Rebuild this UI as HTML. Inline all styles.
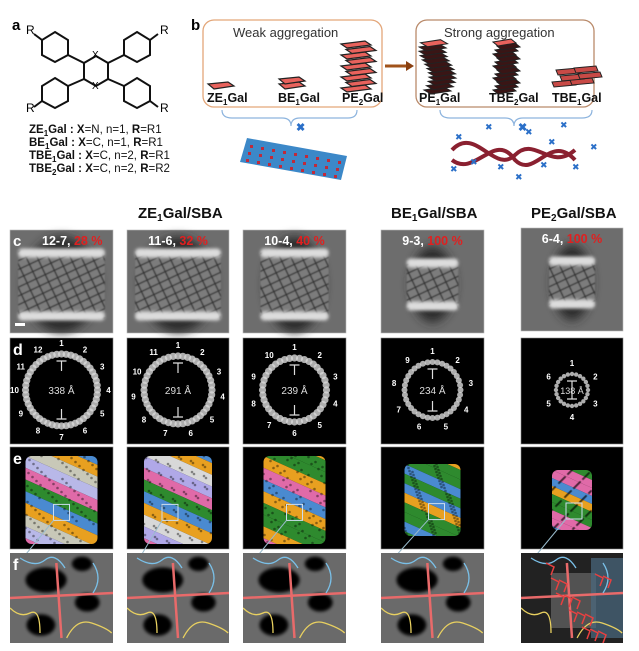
<!DOCTYPE html>
<html><head><meta charset="utf-8"><style>
body{margin:0;background:#fff;}
svg{display:block;font-family:"Liberation Sans",Arial,sans-serif;}
</style></head><body>
<svg id="s" width="639" height="651" viewBox="0 0 639 651" xmlns="http://www.w3.org/2000/svg">
<defs>
<pattern id="lat" width="10" height="8" patternUnits="userSpaceOnUse" patternTransform="rotate(-25)"><rect width="10" height="8" fill="#7c7c7c"/><path d="M0 4 L10 4 M5 0 L5 8" stroke="#333" stroke-width="1.3"/></pattern>
<filter id="bl" x="-20%" y="-50%" width="140%" height="200%"><feGaussianBlur stdDeviation="1.5"/></filter>
<filter id="bl1" x="-20%" y="-20%" width="140%" height="140%"><feGaussianBlur stdDeviation="0.6"/></filter>
<filter id="bl2" x="-30%" y="-30%" width="160%" height="160%"><feGaussianBlur stdDeviation="5"/></filter>
</defs>
<rect width="639" height="651" fill="#fff"/>
<text x="12" y="30" font-size="15" font-weight="bold">a</text>
<g fill="none" stroke="#111" stroke-width="2">
<polygon points="96,56 108,63 108,79 96,86 84,79 84,63"/>
<polygon points="55,32 68,40 68,55 55,62 42,55 42,40"/>
<polygon points="137,32 150,40 150,55 137,62 124,55 124,40"/>
<polygon points="55,78 68,86 68,101 55,108 42,101 42,86"/>
<polygon points="137,78 150,86 150,101 137,108 124,101 124,86"/>
<path d="M68,55 L84,63 M124,55 L108,63 M68,86 L84,79 M124,86 L108,79 M42,40 L34,34 M150,40 L158,34 M42,101 L34,107 M150,101 L158,107"/>
</g>
<text x="26" y="34" font-size="12">R</text><text x="160" y="34" font-size="12">R</text>
<text x="26" y="112" font-size="12">R</text><text x="160" y="112" font-size="12">R</text>
<text x="92" y="58" font-size="10">X</text><text x="92" y="89" font-size="10">X</text>
<g font-size="11.5" fill="#111">
<text x="29" y="133"><tspan font-weight="bold">ZE</tspan><tspan font-size="8" dy="3" font-weight="bold">1</tspan><tspan dy="-3" font-weight="bold">Gal :  X</tspan>=N, n=1, <tspan font-weight="bold">R</tspan>=R1</text>
<text x="29" y="146"><tspan font-weight="bold">BE</tspan><tspan font-size="8" dy="3" font-weight="bold">1</tspan><tspan dy="-3" font-weight="bold">Gal :  X</tspan>=C, n=1, <tspan font-weight="bold">R</tspan>=R1</text>
<text x="29" y="159"><tspan font-weight="bold">TBE</tspan><tspan font-size="8" dy="3" font-weight="bold">1</tspan><tspan dy="-3" font-weight="bold">Gal :  X</tspan>=C, n=2, <tspan font-weight="bold">R</tspan>=R1</text>
<text x="29" y="172"><tspan font-weight="bold">TBE</tspan><tspan font-size="8" dy="3" font-weight="bold">2</tspan><tspan dy="-3" font-weight="bold">Gal :  X</tspan>=C, n=2, <tspan font-weight="bold">R</tspan>=R2</text>
</g>
<text x="191" y="30" font-size="15" font-weight="bold">b</text>
<rect x="203" y="20" width="179" height="87" rx="11" fill="none" stroke="#e3a679" stroke-width="1.3"/>
<rect x="416" y="20" width="178" height="87" rx="11" fill="none" stroke="#b98a6a" stroke-width="1.3"/>
<text x="233" y="37" font-size="13" fill="#333">Weak aggregation</text>
<text x="444" y="37" font-size="13" fill="#333">Strong aggregation</text>
<path d="M385,66 L408,66" stroke="#a0521a" stroke-width="3"/><polygon points="406,61 414,66 406,71" fill="#8a4010"/>
<g fill="#e8625c" stroke="#222" stroke-width="1.2">
<polygon points="208,84 228,82 234,86 214,89"/>
<polygon points="279,84 299,82 305,86 285,89"/><polygon points="279,79 299,77 305,81 285,84"/>
</g>
<g id="pe2" fill="#e8625c" stroke="#222" stroke-width="1.2"></g>
<g font-size="12.5" font-weight="bold" fill="#111">
<text x="207" y="102">ZE<tspan font-size="8" dy="3">1</tspan><tspan dy="-3">Gal</tspan></text>
<text x="278" y="102">BE<tspan font-size="8" dy="3">1</tspan><tspan dy="-3">Gal</tspan></text>
<text x="342" y="102">PE<tspan font-size="8" dy="3">2</tspan><tspan dy="-3">Gal</tspan></text>
<text x="419" y="102">PE<tspan font-size="8" dy="3">1</tspan><tspan dy="-3">Gal</tspan></text>
<text x="489" y="102">TBE<tspan font-size="8" dy="3">2</tspan><tspan dy="-3">Gal</tspan></text>
<text x="552" y="102">TBE<tspan font-size="8" dy="3">1</tspan><tspan dy="-3">Gal</tspan></text>
</g>
<g fill="none" stroke="#8db4de" stroke-width="1.2">
<path d="M222,110 Q222,118 232,118 L282,118 Q291,118 291,126 Q291,118 300,118 L348,118 Q357,118 357,110"/>
<path d="M440,110 Q440,118 450,118 L505,118 Q514,118 514,126 Q514,118 523,118 L582,118 Q592,118 592,110"/>
</g>
<text x="296" y="131" font-size="11" fill="#2a6fc8" font-weight="bold">✖</text>
<text x="518" y="131" font-size="11" fill="#2a6fc8" font-weight="bold">✖</text>
<polygon points="247,138 347,156 341,180 240,162" fill="#3c88c8"/>
<g id="tubedots" fill="#c02a3a"></g>
<path d="M452,150 C475,125 495,175 515,155 C535,135 550,172 575,150" stroke="#8a2030" stroke-width="4" fill="none"/>
<path d="M452,160 C475,178 495,130 515,160 C535,180 550,132 575,160" stroke="#8a2030" stroke-width="4" fill="none"/>
<g id="tets" fill="#2a6fc8" font-size="9"></g>
<g id="strong" stroke="#222" stroke-width="1"></g>
<g font-size="15" font-weight="bold" fill="#111">
<text x="138" y="218">ZE<tspan font-size="10" dy="3">1</tspan><tspan dy="-3">Gal/SBA</tspan></text>
<text x="391" y="218">BE<tspan font-size="10" dy="3">1</tspan><tspan dy="-3">Gal/SBA</tspan></text>
<text x="531" y="218">PE<tspan font-size="10" dy="3">2</tspan><tspan dy="-3">Gal/SBA</tspan></text>
</g>
<g id="panels"></g>
</svg>
<script>
var NS="http://www.w3.org/2000/svg";
function el(p,t,a,txt){var e=document.createElementNS(NS,t);for(var k in a)e.setAttribute(k,a[k]);if(txt!=null)e.textContent=txt;p.appendChild(e);return e;}
var P=document.getElementById('panels');
var pe=document.getElementById('pe2');
for(var i=0;i<9;i++){var y=88-i*5.5,o=(i%2?3:-2);el(pe,'polygon',{points:(343+o)+','+(y)+' '+(367+o)+','+(y-3)+' '+(373+o)+','+(y+1)+' '+(349+o)+','+(y+4)});}
var st=document.getElementById('strong');
for(var i=0;i<12;i++){var y=90-i*4.3,o=Math.sin(i/2)*5;el(st,'polygon',{points:(424+o)+','+y+' '+(444+o)+','+(y-3)+' '+(451+o)+','+(y+1)+' '+(431+o)+','+(y+4),fill:i==11?'#e8625c':'#3a1515'});}
for(var i=0;i<13;i++){var y=90-i*4,o=(i%3)*2;el(st,'polygon',{points:(493+o)+','+y+' '+(511+o)+','+(y-3)+' '+(516+o)+','+(y+1)+' '+(498+o)+','+(y+4),fill:i==12?'#e8625c':'#3a1515'});}
[[552,82],[570,80],[560,76],[578,74],[556,70],[574,68]].forEach(function(q){el(st,'polygon',{points:q[0]+','+q[1]+' '+(q[0]+22)+','+(q[1]-2)+' '+(q[0]+24)+','+(q[1]+3)+' '+(q[0]+2)+','+(q[1]+5),fill:'#c84a46'});});
var td=document.getElementById('tubedots');
for(var i=0;i<9;i++)for(var j=0;j<3;j++){el(td,'rect',{x:250+i*11-j*2,y:145+i*2+j*7,width:3,height:3});}
var tt=document.getElementById('tets');
[[455,140],[470,165],[485,130],[497,170],[525,135],[540,168],[560,128],[572,170],[450,172],[590,150],[515,180],[548,145]].forEach(function(q){el(tt,'text',{x:q[0],y:q[1]},'✖');});
var cols=[[10,113],[127,229],[243,346],[381,484],[521,623]];
var ctext=[['12-7, ','28 %'],['11-6, ','32 %'],['10-4, ','40 %'],['9-3, ','100 %'],['6-4, ','100 %']];
var bw=[0.84,0.84,0.66,0.5,0.45];
var ringR=[36,34,32,28,16],nums=[12,11,10,9,6],ang=['338 Å','291 Å','239 Å','234 Å','138 Å'];
var stripes=[['#b8b8e8','#e06aa8','#2e8a2e','#4a8ad0','#e8a020','#c8c8b8'],['#b0a8e8','#e06aa8','#2e8a2e','#4a8ad0','#e8a020','#d8d8d8'],['#e8a020','#e06aa8','#4a8ad0','#e8a020','#2e8a2e','#2e8a2e'],['#4a8ad0','#2e8a2e','#4a8ad0','#e8a020','#2e8a2e','#2e8a2e'],['#e06aa8','#4a8ad0','#e8a020','#2e8a2e','#2e8a2e','#e06aa8']];
var defs=document.querySelector('defs');
cols.forEach(function(c,k){
 var x=c[0],w=c[1]-c[0],cx=x+w/2;
 var y=k==4?228:230,h=103;
 var g=el(P,'g',{});
 el(g,'rect',{x:x,y:y,width:w,height:h,fill:'#6d6d6d',stroke:'#bbb','stroke-width':0.6});
 var hw=w*bw[k]/2, cy=y+h/2+3, hh=k<3?34:24;
 el(g,'ellipse',{cx:cx,cy:cy,rx:hw*0.85,ry:hh+14,fill:'#2a2a2a',filter:'url(#bl2)'});
 el(g,'rect',{x:cx-hw,y:cy-hh,width:2*hw,height:2*hh,fill:'url(#lat)',filter:'url(#bl1)'});
 el(g,'rect',{x:cx-hw,y:cy-hh-2,width:2*hw,height:9,rx:4,fill:'#dcdcdc',filter:'url(#bl)'});
 el(g,'rect',{x:cx-hw,y:cy+hh-7,width:2*hw,height:9,rx:4,fill:'#dcdcdc',filter:'url(#bl)'});
 var t=el(g,'text',{x:k==0?x+32:cx,y:y+15,'font-size':12.5,'font-weight':'bold','text-anchor':k==0?'start':'middle',fill:'#fff'});
 el(t,'tspan',{},ctext[k][0]);el(t,'tspan',{fill:'#e02020'},ctext[k][1]);
 if(k==0){el(g,'text',{x:x+3,y:y+16,'font-size':15,'font-weight':'bold',fill:'#fff'},'c');el(g,'rect',{x:x+5,y:y+93,width:10,height:3,fill:'#fff'});}
 y=338;h=106;
 el(P,'rect',{x:x,y:y,width:w,height:h,fill:'#000',stroke:'#888','stroke-width':0.6});
 var rcy=y+52,R=ringR[k],n=nums[k];
 for(var i=0;i<n*4;i++){var a=i/(n*4)*Math.PI*2;el(P,'circle',{cx:cx+R*Math.sin(a),cy:rcy-R*Math.cos(a),r:k==4?2.2:(k==3?3:3.6),fill:'#d8d8d8',opacity:0.8});}
 for(var i=0;i<n;i++){var a=i/n*Math.PI*2;var rr=R+11;el(P,'text',{x:cx+rr*Math.sin(a),y:rcy-rr*Math.cos(a)+3,'font-size':8,'font-weight':'bold','text-anchor':'middle',fill:'#fff'},String(i+1));}
 el(P,'text',{x:cx,y:rcy+4,'font-size':k==4?9:10,'text-anchor':'middle',fill:'#ddd'},ang[k]);
 el(P,'path',{d:'M'+(cx-5)+','+(rcy-R+7)+' h10 M'+cx+','+(rcy-R+7)+' v10 M'+(cx-5)+','+(rcy+R-7)+' h10 M'+cx+','+(rcy+R-7)+' v-10',stroke:'#ddd','stroke-width':1.2});
 if(k==0)el(P,'text',{x:x+3,y:y+17,'font-size':16,'font-weight':'bold',fill:'#fff'},'d');
 y=447;h=102;
 el(P,'rect',{x:x,y:y,width:w,height:h,fill:'#000',stroke:'#888','stroke-width':0.6});
 var cw=[72,68,62,56,40][k],ch=[88,88,88,72,60][k],ex=cx-cw/2,ey=y+h/2-ch/2+2;
 var id='cl'+k;var cp=el(defs,'clipPath',{id:id});el(cp,'rect',{x:ex,y:ey,width:cw,height:ch,rx:6});
 var sg=el(P,'g',{'clip-path':'url(#'+id+')'});
 var sh=ch/7.5;
 for(var i=-4;i<10;i++){var col=stripes[k][(i+12)%6];var yy=ey+i*sh;el(sg,'polygon',{points:ex+','+yy+' '+(ex+cw)+','+(yy+cw*0.45)+' '+(ex+cw)+','+(yy+cw*0.45+sh)+' '+ex+','+(yy+sh),fill:col});}
 for(var i=0;i<90;i++){el(sg,'circle',{cx:ex+(i*37%cw),cy:ey+(i*23%ch),r:1.3,fill:'#000',opacity:0.4});}
 var bx=cx-8+[0,-8,0,4,2][k],by=ey+ch*0.55;
 el(P,'rect',{x:bx,y:by,width:16,height:16,fill:'none',stroke:'#cde','stroke-width':1});
 el(P,'line',{x1:bx,y1:by+16,x2:x+12,y2:y+h+10,stroke:'#9bc','stroke-width':1});
 if(k==0)el(P,'text',{x:x+3,y:y+17,'font-size':16,'font-weight':'bold',fill:'#fff'},'e');
 y=553;h=90;
 var fid='fc'+k;var fp=el(defs,'clipPath',{id:fid});el(fp,'rect',{x:x,y:y,width:w,height:h});
 var fg=el(P,'g',{'clip-path':'url(#'+fid+')'});
 el(fg,'rect',{x:x,y:y,width:w,height:h,fill:k==4?'#222':'#6a6a6a'});
 if(k<4){el(fg,'ellipse',{cx:x+w*0.35,cy:y+h*0.3,rx:w*0.2,ry:h*0.14,fill:'#050505',filter:'url(#bl)'});el(fg,'ellipse',{cx:x+w*0.3,cy:y+h*0.8,rx:w*0.14,ry:h*0.12,fill:'#050505',filter:'url(#bl)'});el(fg,'ellipse',{cx:x+w*0.75,cy:y+h*0.55,rx:w*0.12,ry:h*0.1,fill:'#050505',filter:'url(#bl)'});el(fg,'ellipse',{cx:x+w*0.7,cy:y+h*0.12,rx:w*0.1,ry:h*0.08,fill:'#050505',filter:'url(#bl)'});}
 else{el(fg,'rect',{x:x+30,y:y+20,width:45,height:55,fill:'#666',opacity:0.7});el(fg,'rect',{x:x+70,y:y+5,width:32,height:80,fill:'#4a6a80',opacity:0.7});}
 el(fg,'path',{d:'M'+(x)+','+(y+45)+' L'+(x+w)+','+(y+40)+' M'+(x+w*0.45)+','+(y+10)+' L'+(x+w*0.5)+','+(y+85),stroke:'#e86a6a','stroke-width':2.5,fill:'none'});
 el(fg,'path',{d:'M'+(x+10)+','+(y+5)+' q15,10 25,2 t20,8 M'+(x+w-20)+','+(y+10)+' q10,15 0,30',stroke:'#7ac0e8','stroke-width':1.3,fill:'none'});
 el(fg,'path',{d:'M'+(x)+','+(y+55)+' q10,10 20,5 t10,20 M'+(x+w*0.55)+','+(y+h-5)+' q10,-20 25,-15 t20,10',stroke:'#e8d060','stroke-width':1.3,fill:'none'});
 if(k==4){for(var i=0;i<14;i++)el(fg,'path',{d:'M'+(x+25+(i*13%60))+','+(y+10+(i*17%70))+' l8,4 l-3,8',stroke:'#e84040','stroke-width':1.5,fill:'none'});}
 if(k==0)el(P,'text',{x:x+3,y:y+17,'font-size':16,'font-weight':'bold',fill:'#fff'},'f');
});
</script>
</body></html>
